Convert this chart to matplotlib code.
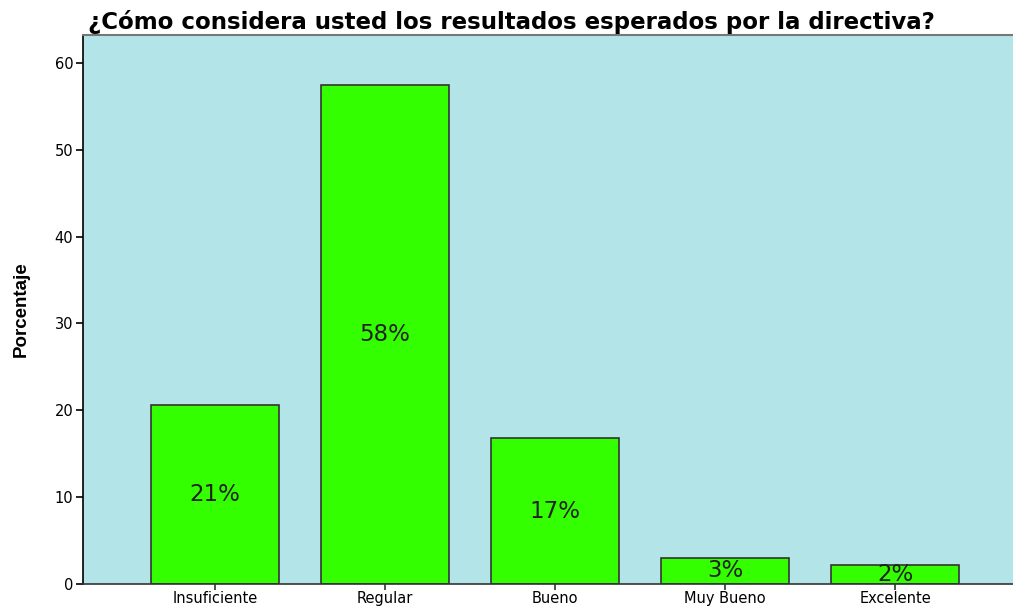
import matplotlib
matplotlib.use("Agg")
import matplotlib.pyplot as plt

categorias = ["Insuficiente", "Regular", "Bueno", "Muy Bueno", "Excelente"]
porcentajes = [20.6, 57.5, 16.8, 3.0, 2.2]
etiquetas = ["21%", "58%", "17%", "3%", "2%"]
yticks = [0, 10, 20, 30, 40, 50, 60]

plt.rcParams['font.family'] = ['DejaVu Sans']

fig = plt.figure(figsize=(10.13, 6.07), dpi=100)
ax = fig.add_axes([83 / 1013, 23 / 607, 930 / 1013, 549 / 607])
ax.set_facecolor('#b3e5e8')

x = list(range(len(categorias)))
bars = ax.bar(x, porcentajes, width=0.75, color='#33ff00', edgecolor='#333333', linewidth=1.2, zorder=2)

# etiquetas dentro de las barras, centradas a media altura
for xi, v, lab in zip(x, porcentajes, etiquetas):
    ax.text(xi, v / 2, lab, ha='center', va='center', fontsize=16.5, color='#222222', zorder=3)

ax.set_xlim(-0.776, 4.694)
ax.set_ylim(0, 63.2)
ax.set_yticks(yticks)
ax.set_xticks(x)
ax.set_xticklabels(categorias, fontsize=10.5)
ax.tick_params(axis='y', labelsize=10.5, length=5, width=1.2, pad=2)
ax.tick_params(axis='x', length=4, width=1.2, pad=1, color='#333333')

ax.spines['left'].set_color('black')
ax.spines['left'].set_linewidth(1.2)
ax.spines['bottom'].set_color('#333333')
ax.spines['bottom'].set_linewidth(1.2)
ax.spines['top'].set_color('#777777')
ax.spines['top'].set_linewidth(1.5)
ax.spines['right'].set_visible(False)

ax.set_ylabel("Porcentaje", fontsize=13.5, fontweight='bold',
              family=['Liberation Sans Narrow', 'Liberation Sans'], labelpad=18)
fig.text(88 / 1013, 1 - 22 / 607, "¿Cómo considera usted los resultados esperados por la directiva?",
         fontsize=16.5, fontweight='bold', ha='left', va='center')

fig.savefig("out.png", dpi=100)
